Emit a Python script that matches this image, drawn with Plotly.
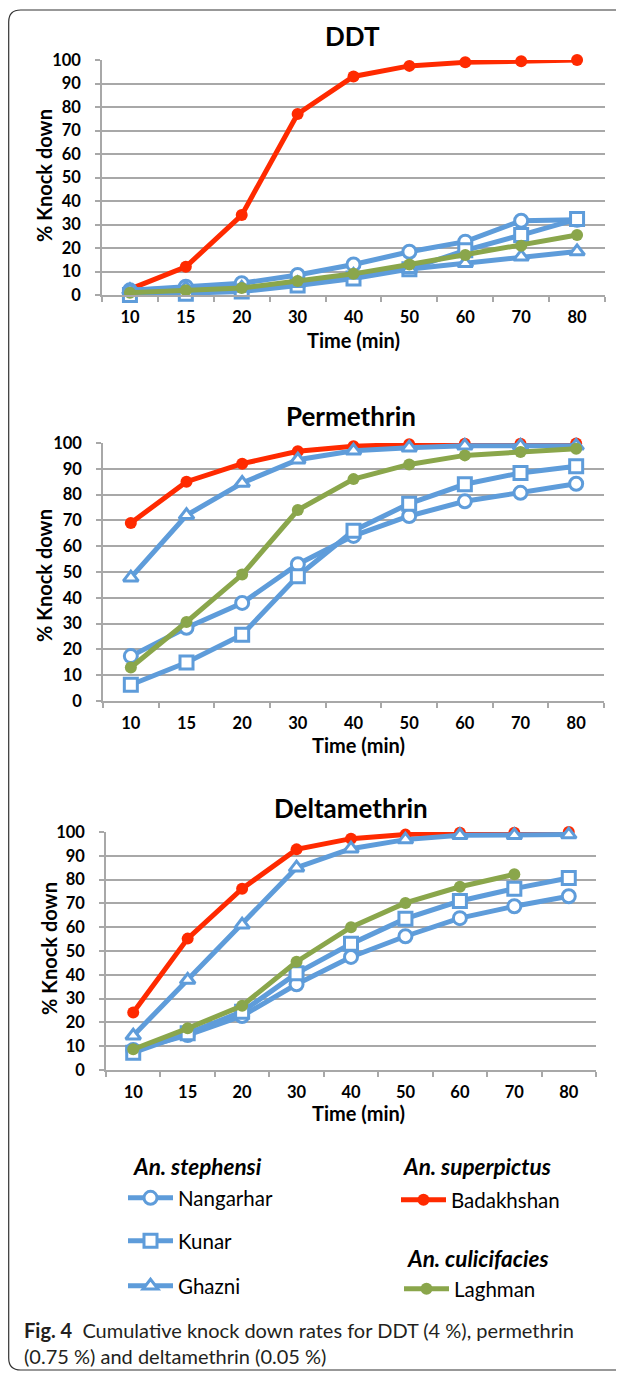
import plotly.graph_objects as go

W, H = 624, 1373
OX, OY = 8, 8  # page body margin offset

times = ["10", "15", "20", "30", "40", "50", "60", "70", "80"]

# DDT
ddt_nangarhar = [2, 3.5, 5, 8.5, 13, 18.4, 22.7, 31.6, 32]
ddt_kunar = [0, 0.5, 1.5, 4, 7, 11, 19, 25.5, 32.3]
ddt_ghazni = [2, 3, 3, 5, 8.5, 11, 13.5, 16.3, 18.5]
ddt_laghman = [1, 2, 3, 6, 9, 13, 17, 21, 25.5]
ddt_badakhshan = [2.5, 12, 34, 77, 93, 97.5, 99, 99.5, 100]

# Permethrin
per_nangarhar = [17.4, 28.4, 38, 53, 64, 71.7, 77.4, 80.7, 84.2]
per_kunar = [6.3, 14.9, 25.7, 48.4, 66, 76.5, 84, 88.4, 91]
per_ghazni = [47.8, 72, 84.5, 93.5, 97, 98.2, 98.9, 98.9, 98.9]
per_laghman = [13, 30.6, 49, 74, 86, 91.7, 95.2, 96.5, 97.8]
per_badakhshan = [69, 85, 92, 96.8, 98.7, 99.5, 99.7, 99.7, 99.8]

# Deltamethrin
del_nangarhar = [8.4, 14.7, 22.7, 36, 47.5, 56.2, 63.8, 68.8, 73]
del_kunar = [7.3, 15.4, 24.5, 40.6, 53, 63.6, 71, 76.2, 80.7]
del_ghazni = [14.4, 37.8, 61, 85, 93, 96.8, 98.6, 98.6, 98.9]
del_laghman = [8.7, 17.5, 27, 45.5, 60, 70.2, 77, 82.2, None]
del_badakhshan = [24.2, 55.2, 76.2, 92.7, 97.2, 98.9, 99.7, 99.7, 100]

panel_titles = ["DDT", "Permethrin", "Deltamethrin"]
y_ticks = list(range(0, 101, 10))

BLUE = "#5E9CDA"
RED = "#FF2A00"
GREEN = "#8AA64B"
GRID = "#A8A8A8"
FONT = "Lato"


def X(px):
    return (px - OX) / W


def Y(py):
    return 1 - (py - OY) / H


# panel geometry in page pixels: (x_left, x_right, y_top(100), y_bottom(0))
panels = [
    (102, 605, 60, 295),
    (103, 604, 443, 701),
    (106, 596, 832, 1070),
]

series_sets = [
    (ddt_nangarhar, ddt_kunar, ddt_ghazni, ddt_laghman, ddt_badakhshan),
    (per_nangarhar, per_kunar, per_ghazni, per_laghman, per_badakhshan),
    (del_nangarhar, del_kunar, del_ghazni, del_laghman, del_badakhshan),
]

fig = go.Figure()

LW = 5
MS = 13
for i, (nan, kun, gha, lag, bad) in enumerate(series_sets):
    ax = "" if i == 0 else str(i + 1)
    xa, ya = "x" + ax, "y" + ax
    first = i == 0
    common = dict(x=times, xaxis=xa, yaxis=ya, mode="lines+markers", cliponaxis=False)
    fig.add_trace(go.Scatter(y=bad, name="Badakhshan", line=dict(color=RED, width=LW),
                             marker=dict(symbol="circle", size=12, color=RED),
                             showlegend=first, legend="legend4", **common))
    fig.add_trace(go.Scatter(y=nan, name="Nangarhar", line=dict(color=BLUE, width=LW),
                             marker=dict(symbol="circle", size=MS, color="white",
                                         line=dict(color=BLUE, width=3)),
                             showlegend=first, legend="legend", **common))
    fig.add_trace(go.Scatter(y=kun, name="Kunar", line=dict(color=BLUE, width=LW),
                             marker=dict(symbol="square", size=MS, color="white",
                                         line=dict(color=BLUE, width=3)),
                             showlegend=first, legend="legend2", **common))
    fig.add_trace(go.Scatter(y=gha, name="Ghazni", line=dict(color=BLUE, width=LW),
                             marker=dict(symbol="triangle-up", size=MS, color="white",
                                         line=dict(color=BLUE, width=3)),
                             showlegend=first, legend="legend3", **common))
    fig.add_trace(go.Scatter(y=lag, name="Laghman", line=dict(color=GREEN, width=LW),
                             marker=dict(symbol="circle", size=12, color=GREEN),
                             showlegend=first, legend="legend5", **common))

layout = dict(
    width=W, height=H,
    margin=dict(l=0, r=0, t=0, b=0, autoexpand=False),
    paper_bgcolor="white", plot_bgcolor="white",
    font=dict(family=FONT, color="black"),
)

annotations = []
for i, (xl, xr, yt, yb) in enumerate(panels):
    ax = "" if i == 0 else str(i + 1)
    layout["xaxis" + ax] = dict(
        domain=[X(xl), X(xr)], anchor="y" + ax, type="category",
        categoryorder="array", categoryarray=times, range=[-0.5, 8.5],
        tickson="boundaries", ticks="outside", ticklen=5, tickcolor=GRID, tickwidth=1.5,
        showline=True, linecolor=GRID, linewidth=1.5, showgrid=False, automargin=False,
        tickfont=dict(family=FONT, size=16.5, color="black", weight="bold"),
        ticklabelstandoff=6, fixedrange=True,
    )
    layout["yaxis" + ax] = dict(
        domain=[Y(yb), Y(yt)], anchor="x" + ax, range=[0, 100],
        tickvals=y_ticks, ticks="outside", ticklen=5, tickcolor=GRID, tickwidth=1.5,
        showline=True, linecolor=GRID, linewidth=1.5, automargin=False,
        showgrid=True, gridcolor=GRID, gridwidth=1.5, zeroline=False,
        tickfont=dict(family=FONT, size=16.5, color="black", weight="bold"),
        ticklabelstandoff=11, fixedrange=True,
    )


def ann(text, px, py, size, xanchor="center", **kw):
    return dict(text=text, x=X(px), y=Y(py), xref="paper", yref="paper",
                xanchor=xanchor, yanchor="middle", showarrow=False,
                font=dict(family=FONT, size=size, **kw.pop("font", {})), **kw)


# panel titles and axis titles
title_pos = [(352, 36), (351, 416), (351, 808)]
ytitle_pos = [(44, 176), (44, 576), (49, 949)]
xtitle_pos = [(353, 340), (358, 745), (358, 1113)]
for i in range(3):
    tx, ty = title_pos[i]
    annotations.append(ann(panel_titles[i], tx, ty, 26, font=dict(weight="bold")))
    yx, yy = ytitle_pos[i]
    annotations.append(ann("% Knock down", yx, yy, 20, textangle=-90, font=dict(weight="bold")))
    xx, xy = xtitle_pos[i]
    annotations.append(ann("Time (min)", xx, xy, 20, font=dict(weight="bold")))

# legend group headers
headers = [("An. stephensi", 198, 1166), ("An. superpictus", 477, 1166), ("An. culicifacies", 478, 1258)]
for txt, hx, hy in headers:
    annotations.append(ann(txt, hx, hy, 22.5, font=dict(weight="bold", style="italic")))

# caption
annotations.append(ann("<b>Fig. 4</b>  Cumulative knock down rates for DDT (4 %), permethrin",
                       22, 1330, 20, xanchor="left", font=dict(color="#231F20")))
annotations.append(ann("(0.75 %) and deltamethrin (0.05 %)",
                       22, 1356, 20, xanchor="left", font=dict(color="#231F20")))
layout["annotations"] = annotations

# legends
leg_pos = {"legend": (123, 1198), "legend2": (123, 1241), "legend3": (123, 1286),
           "legend4": (396, 1200), "legend5": (399, 1289)}
for name, (lx, ly) in leg_pos.items():
    layout[name] = dict(x=X(lx), y=Y(ly), xanchor="left", yanchor="middle",
                        xref="paper", yref="paper", bgcolor="rgba(0,0,0,0)",
                        font=dict(family=FONT, size=20.5, color="black"),
                        itemwidth=45, itemclick=False, itemdoubleclick=False)

# rounded border (right edge runs off the page)
r = 12
x0, y0, x1, y1 = 8.7, 10, 660, 1370
path = (f"M {X(x1)},{Y(y0)} L {X(x0 + r)},{Y(y0)} "
        f"Q {X(x0)},{Y(y0)} {X(x0)},{Y(y0 + r)} "
        f"L {X(x0)},{Y(y1 - r)} Q {X(x0)},{Y(y1)} {X(x0 + r)},{Y(y1)} L {X(x1)},{Y(y1)}")
layout["shapes"] = [dict(type="path", path=path, xref="paper", yref="paper",
                         line=dict(color="#333333", width=1.2))]

fig.update_layout(**layout)
fig.write_html("out.html")
